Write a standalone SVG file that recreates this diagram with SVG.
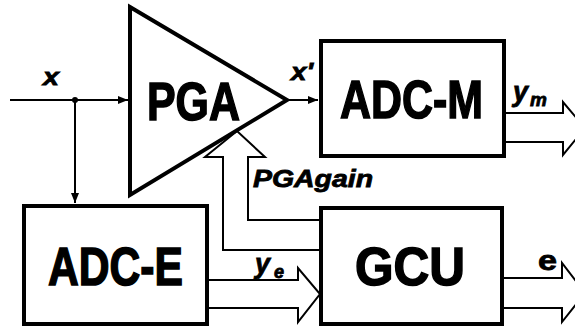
<svg xmlns="http://www.w3.org/2000/svg" width="575" height="327" viewBox="0 0 575 327">
<style>
.box{fill:#fff;stroke:#000;stroke-width:4}
.lbl{font-family:"Liberation Sans",Arial,sans-serif;font-weight:bold;fill:#000;stroke:#000;stroke-width:0.8}
.big{font-size:43px;stroke-width:1.2}
.it{font-style:italic}
.wire{fill:none;stroke:#000;stroke-width:2}
.bus{fill:none;stroke:#000;stroke-width:2;stroke-linejoin:miter}
</style>
<defs>
<marker id="ah" viewBox="0 0 10 8" refX="10" refY="4" markerWidth="10" markerHeight="8" orient="auto" markerUnits="userSpaceOnUse">
<path d="M0,0 L10,4 L0,8 Z" fill="#000"/>
</marker>
</defs>
<g id="connectors">
<path class="wire" d="M10,100 H128" marker-end="url(#ah)"/>
<circle cx="75" cy="100" r="3" fill="#000"/>
<path class="wire" d="M75,100 V203" marker-end="url(#ah)"/>
<path class="wire" d="M287,100 H318" marker-end="url(#ah)"/>
<path class="bus" d="M320,250 H223 V157 H205 L237,131 L265,157 H248 V220 H320"/>
<path class="bus" d="M208,280 H298 V268 L320,294 L298,322 V308 H208"/>
<path class="bus" d="M505,113 H563 V102 L585,128 L563,155 V142 H505"/>
<path class="bus" d="M503,278 H562 V263 L585,293 L562,322 V308 H503"/>
<text class="lbl it" x="43" y="85" font-size="24" textLength="16" lengthAdjust="spacingAndGlyphs">x</text>
<text class="lbl it" x="291" y="80" font-size="24" textLength="22" lengthAdjust="spacingAndGlyphs">x'</text>
<text class="lbl it" x="253" y="187" font-size="24" textLength="120" lengthAdjust="spacingAndGlyphs">PGAgain</text>
<text class="lbl it" x="513" y="101" font-size="27">y</text>
<text class="lbl it" x="530" y="106" font-size="19">m</text>
<text class="lbl it" x="255" y="273" font-size="27">y</text>
<text class="lbl it" x="274" y="278" font-size="18">e</text>
<text class="lbl" x="538" y="270" font-size="28" textLength="19" lengthAdjust="spacingAndGlyphs">e</text>
</g>
<g id="pga">
<polygon class="box" points="130,7 287,100 130,195"/>
<text class="lbl big" transform="translate(147,120) scale(1,1.25)" textLength="93" lengthAdjust="spacingAndGlyphs">PGA</text>
</g>
<g id="adc-m">
<rect class="box" x="321" y="41" width="183" height="115"/>
<text class="lbl big" transform="translate(340,118) scale(1,1.25)" textLength="143" lengthAdjust="spacingAndGlyphs">ADC-M</text>
</g>
<g id="adc-e">
<rect class="box" x="24" y="206" width="183" height="118"/>
<text class="lbl big" transform="translate(48,285) scale(1,1.25)" textLength="135" lengthAdjust="spacingAndGlyphs">ADC-E</text>
</g>
<g id="gcu">
<rect class="box" x="321" y="208" width="181" height="116"/>
<text class="lbl big" transform="translate(355,285) scale(1,1.25)" textLength="110" lengthAdjust="spacingAndGlyphs">GCU</text>
</g>
</svg>
